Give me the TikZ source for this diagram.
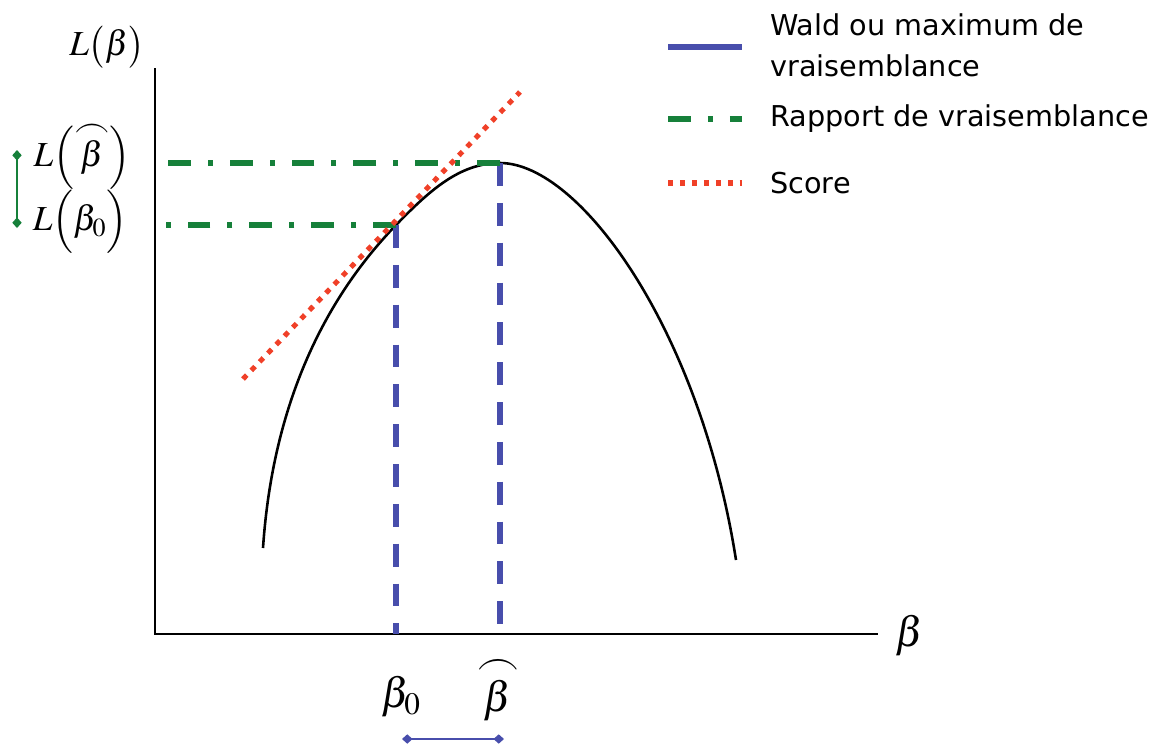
\documentclass[tikz,border=0pt]{standalone}
\usepackage{amsmath}
\usepackage{mathptmx}
\usepackage[no-math]{fontspec}
\setsansfont{DejaVu Sans}
\usetikzlibrary{arrows.meta}
\definecolor{waldblue}{RGB}{72,78,172}
\definecolor{lrgreen}{RGB}{22,128,58}
\definecolor{scorered}{RGB}{240,64,40}
\tikzset{
  axisline/.style={line width=2.5pt, draw=black},
  curveline/.style={line width=2.2pt, draw=black},
  waldline/.style={draw=waldblue, line width=4.3pt, dash pattern=on 19.5pt off 14.5pt},
  lrline/.style={draw=lrgreen, line width=4.3pt, dash pattern=on 19.5pt off 14.5pt on 4.3pt off 14.5pt},
  scoreline/.style={draw=scorered, line width=4.3pt, dash pattern=on 4.6pt off 5.6pt},
  mathlbl/.style={font=\fontsize{30}{36}\selectfont, inner sep=0pt},
  biglbl/.style={font=\fontsize{36}{42}\selectfont, inner sep=0pt},
  leg/.style={font=\fontsize{24.5}{35}\sffamily\selectfont, anchor=west, align=left, inner sep=0pt},
  spanline/.style={line width=1.6pt, {Diamond[length=9pt,width=8pt]}-{Diamond[length=9pt,width=8pt]}}
}
\newcommand{\arcbeta}{\overset{\smash{\raisebox{-0.25ex}{$\frown$}}}{\beta}}
\begin{document}
\begin{tikzpicture}[x=0.03cm,y=-0.03cm]
\useasboundingbox (0,0) rectangle (1158,744);
% key points
\coordinate (o) at (155,634);
\coordinate (ytop) at (155,68);
\coordinate (xend) at (878,634);
\coordinate (cs) at (263,548);
\coordinate (ce) at (736,560);
\coordinate (b0) at (396,225);
\coordinate (bh) at (500,163);
\coordinate (b0ax) at (396,634);
\coordinate (bhax) at (500,634);
\coordinate (yb0) at (158,225);
\coordinate (ybh) at (158,163);
\coordinate (t1) at (243,379);
\coordinate (t2) at (520,92);
% axes
\draw[axisline] (ytop) -- (o) -- (xend);
% curve
\draw[curveline] (cs) .. controls (275,370) and (350,273) .. (b0)
   .. controls (430,190) and (460,163) .. (bh)
   .. controls (580,163) and (700,330) .. (ce);
% wald verticals
\draw[waldline] (b0) -- (b0ax);
\draw[waldline] (bh) -- (bhax);
% likelihood ratio horizontals
\draw[lrline] (bh) -- (ybh);
\draw[lrline] (b0) -- (yb0);
% score tangent
\draw[scoreline] (t1) -- (t2);
% labels
\node[mathlbl] (lb) at (107,47) {$L\bigl(\beta\bigr)$};
\node[mathlbl] (lbh) at (82,158) {$L\Bigl(\arcbeta\Bigr)$};
\node[mathlbl] (lb0) at (80,222) {$L\Bigl(\beta_0\Bigr)$};
\node[biglbl] (xb) at (910,636) {$\beta$};
\node[biglbl] (xb0) at (401,697) {$\beta_0$};
\node[biglbl] (xbh) at (498,694) {$\arcbeta$};
% spans
\coordinate (g1) at (17,150);
\coordinate (g2) at (17,228);
\draw[spanline, draw=lrgreen, fill=lrgreen] (g1) -- (g2);
\coordinate (w1) at (402,739);
\coordinate (w2) at (504,739);
\draw[spanline, draw=waldblue, fill=waldblue] (w1) -- (w2);
% legend
\coordinate (la1) at (668,47);  \coordinate (la2) at (742,47);
\coordinate (lb1) at (668,119); \coordinate (lb2) at (742,119);
\coordinate (lc1) at (668,183); \coordinate (lc2) at (742,183);
\draw[draw=waldblue, line width=4.3pt] (la1) -- (la2);
\draw[lrline] (lb1) -- (lb2);
\draw[scoreline] (lc1) -- (lc2);
\node[leg] (ta) at (770,45) {Wald ou maximum de\\vraisemblance};
\node[leg] (tb) at (770,119) {Rapport de vraisemblance};
\node[leg] (tc) at (770,183) {Score};
\end{tikzpicture}
\end{document}
